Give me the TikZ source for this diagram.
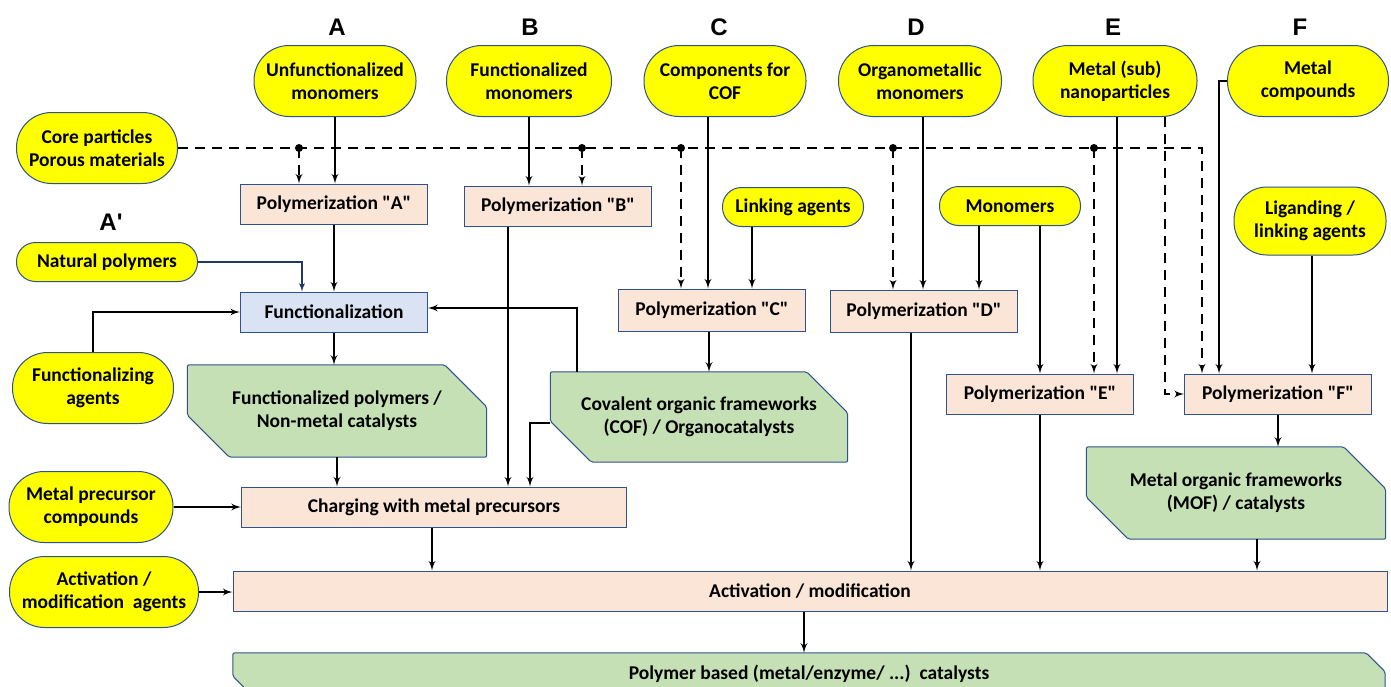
\documentclass[tikz,border=0pt]{standalone}
\usepackage{fontspec}
\setmainfont{Carlito}
\newfontfamily\headfont{Liberation Sans}
\usetikzlibrary{shapes,arrows,backgrounds}

\definecolor{edge}{RGB}{47,82,143}
\definecolor{yell}{RGB}{255,255,0}
\definecolor{peach}{RGB}{251,229,214}
\definecolor{pale}{RGB}{218,227,243}
\definecolor{leaf}{RGB}{197,224,180}
\definecolor{navy}{RGB}{31,56,100}

\begin{document}
\begin{tikzpicture}[x=1pt, y=-1pt, font=\fontsize{19.5}{23}\selectfont\bfseries]
        % Define block styles
        \tikzstyle{source} = [rectangle, draw=edge, line width=1pt, fill=yell,
            align=center, inner sep=1pt, minimum height=71pt, rounded corners=35pt]
        \tikzstyle{tag} = [source, minimum height=39pt, rounded corners=19pt]
        \tikzstyle{block} = [rectangle, draw=edge, line width=1pt, fill=peach,
            align=center, minimum width=187pt, minimum height=40pt]
        \tikzstyle{product} = [rectangle, align=center, inner sep=0pt]
        \tikzstyle{shell} = [draw=edge, line width=1pt, fill=leaf, rounded corners=2pt]
        \tikzstyle{letter} = [font=\fontsize{24}{24}\selectfont\headfont\bfseries]
        \tikzstyle{line} = [draw, line width=2.3pt, -latex']
        \tikzstyle{dline} = [line, dash pattern=on 10pt off 7pt]

        \useasboundingbox (0,0) rectangle (1391,686);

        % Route letters
        \node [letter] (la) at (337,27) {A};
        \node [letter] (lb) at (530,27) {B};
        \node [letter] (lc) at (719,27) {C};
        \node [letter] (ld) at (916,27) {D};
        \node [letter] (le) at (1113,27) {E};
        \node [letter] (lf) at (1300,27) {F};
        \node [letter] (lap) at (111,222) {A\textquotesingle};

        % Starting materials
        \node [source, minimum width=162pt] (unf) at (335,81) {Unfunctionalized\\monomers};
        \node [source, minimum width=165pt] (fmon) at (529,81) {Functionalized\\monomers};
        \node [source, minimum width=162pt] (comp) at (725,81) {Components for\\COF};
        \node [source, minimum width=163pt] (orga) at (920,81) {Organometallic\\monomers};
        \node [source, minimum width=164pt] (nano) at (1115,81) {Metal (sub)\\nanoparticles};
        \node [source, minimum width=161pt] (metc) at (1308,81) {Metal\\compounds};
        \node [source, minimum width=161pt] (core) at (97,148) {Core particles\\Porous materials};
        \node [tag, minimum width=181pt] (natp) at (107,262) {Natural polymers};
        \node [source, minimum width=161pt] (fagt) at (93,388) {Functionalizing\\agents};
        \node [source, minimum width=164pt] (mprc) at (91,507) {Metal precursor\\compounds};
        \node [source, minimum width=189pt] (aagt) at (104,592) {Activation /\\modification~~agents};
        \node [tag, minimum width=141pt] (link) at (793,207) {Linking agents};
        \node [tag, minimum width=141pt] (mono) at (1010,206) {Monomers};
        \node [source, minimum width=152pt, minimum height=68pt, rounded corners=33pt] (lgnd) at (1310,221) {Liganding /\\linking agents};

        % Process steps
        \node [block] (polA) at (334,204) {Polymerization \textquotedbl A\textquotedbl};
        \node [block] (polB) at (558,206) {Polymerization \textquotedbl B\textquotedbl};
        \node [block, fill=pale] (func) at (334,312) {Functionalization};
        \node [block, minimum height=42pt] (polC) at (712,310) {Polymerization \textquotedbl C\textquotedbl};
        \node [block, minimum height=42pt] (polD) at (924,311) {Polymerization \textquotedbl D\textquotedbl};
        \node [block] (polE) at (1040,394) {Polymerization \textquotedbl E\textquotedbl};
        \node [block] (polF) at (1278,394) {Polymerization \textquotedbl F\textquotedbl};
        \node [block, minimum width=385pt] (chrg) at (434,507) {Charging with metal precursors};
        \node [block, minimum width=1154pt] (actv) at (810,591) {Activation / modification};

        % Products
        \node [product, minimum width=299pt, minimum height=92pt] (fpol) at (337,411) {Functionalized polymers /\\Non-metal catalysts};
        \node [product, minimum width=297pt, minimum height=90pt] (cofr) at (699,417) {Covalent organic frameworks\\(COF) / Organocatalysts};
        \node [product, minimum width=299pt, minimum height=92pt] (mofr) at (1236,493) {Metal organic frameworks\\(MOF) / catalysts};
        \node [product, minimum width=1152pt, minimum height=42pt] (cata) at (809,674) {Polymer based (metal/enzyme/ ...)~~catalysts};

        \begin{scope}[on background layer]
            \foreach \n/\c in {fpol/42, cofr/41, mofr/42, cata/19}
                \draw [shell] (\n.north west) -- ([xshift=-\c pt]\n.north east) -- ([yshift=-\c pt]\n.north east)
                    -- (\n.south east) -- ([xshift=\c pt]\n.south west) -- ([yshift=\c pt]\n.south west) -- cycle;
        \end{scope}

        % Junctions on the core line
        \coordinate (jA) at (299,148);
        \coordinate (jB) at (582,148);
        \coordinate (jC) at (681,148);
        \coordinate (jD) at (893,148);
        \coordinate (jE) at (1094,148);
        \coordinate (jF) at (1202,148);

        % Dashed arrows
        \path [dline] (core.east) -| (jF |- polF.north);
        \path [dline] (jA) -- (jA |- polA.north);
        \path [dline] (jB) -- (jB |- polB.north);
        \path [dline] (jC) -- (jC |- polC.north);
        \path [dline] (jD) -- (jD |- polD.north);
        \path [dline] (jE) -- (jE |- polE.north);
        \path [dline] ([xshift=50]nano.south) |- (polF.west);
        \foreach \j in {jA,jB,jC,jD,jE} \fill (\j) circle (4pt);

        % Arrows
        \path [line] (unf.south) -- (unf.south |- polA.north);
        \path [line] (fmon.south) -- (fmon.south |- polB.north);
        \path [line] ([xshift=-17]comp.south) -- ([xshift=-17]comp.south |- polC.north);
        \path [line] ([xshift=-41]link.south) -- ([xshift=-41]link.south |- polC.north);
        \path [line] ([xshift=3]orga.south) -- ([xshift=3]orga.south |- polD.north);
        \path [line] ([xshift=-31]mono.south) -- ([xshift=-31]mono.south |- polD.north);
        \path [line] ([xshift=30]mono.south) -- ([xshift=30]mono.south |- polE.north);
        \path [line] ([xshift=2]nano.south) -- ([xshift=2]nano.south |- polE.north);
        \path [line] (metc.west) -| ([xshift=-59]polF.north);
        \path [line] ([xshift=2]lgnd.south) -- ([xshift=2]lgnd.south |- polF.north);
        \path [line] (polF.south) -- (polF.south |- mofr.north);
        \path [line] (polA.south) -- (polA.south |- func.north);
        \path [line, color=navy, line width=1.8pt] (natp.east) -| ([xshift=-32]func.north);
        \path [line] (fagt.north) |- (func.west);
        \path [line] ([xshift=-122]cofr.north) |- ([yshift=4]func.east);
        \path [line] ([xshift=-50]polB.south) -- ([xshift=-50]polB.south |- chrg.north);
        \path [line] ([yshift=-6]cofr.west) -| ([xshift=96]chrg.north);
        \path [line] (func.south) -- (func.south |- fpol.north);
        \path [line] (fpol.south) -- (fpol.south |- chrg.north);
        \path [line] ([xshift=-3]polC.south) -- ([xshift=-3]polC.south |- cofr.north);
        \path [line] (mprc.east) -- (mprc.east -| chrg.west);
        \path [line] ([xshift=-2]chrg.south) -- ([xshift=-2]chrg.south |- actv.north);
        \path [line] (aagt.east) -- (aagt.east -| actv.west);
        \path [line] ([xshift=-13]polD.south) -- ([xshift=-13]polD.south |- actv.north);
        \path [line] (polE.south) -- (polE.south |- actv.north);
        \path [line] ([xshift=21]mofr.south) -- ([xshift=21]mofr.south |- actv.north);
        \path [line] ([xshift=-6]actv.south) -- ([xshift=-6]actv.south |- cata.north);
\end{tikzpicture}
\end{document}
